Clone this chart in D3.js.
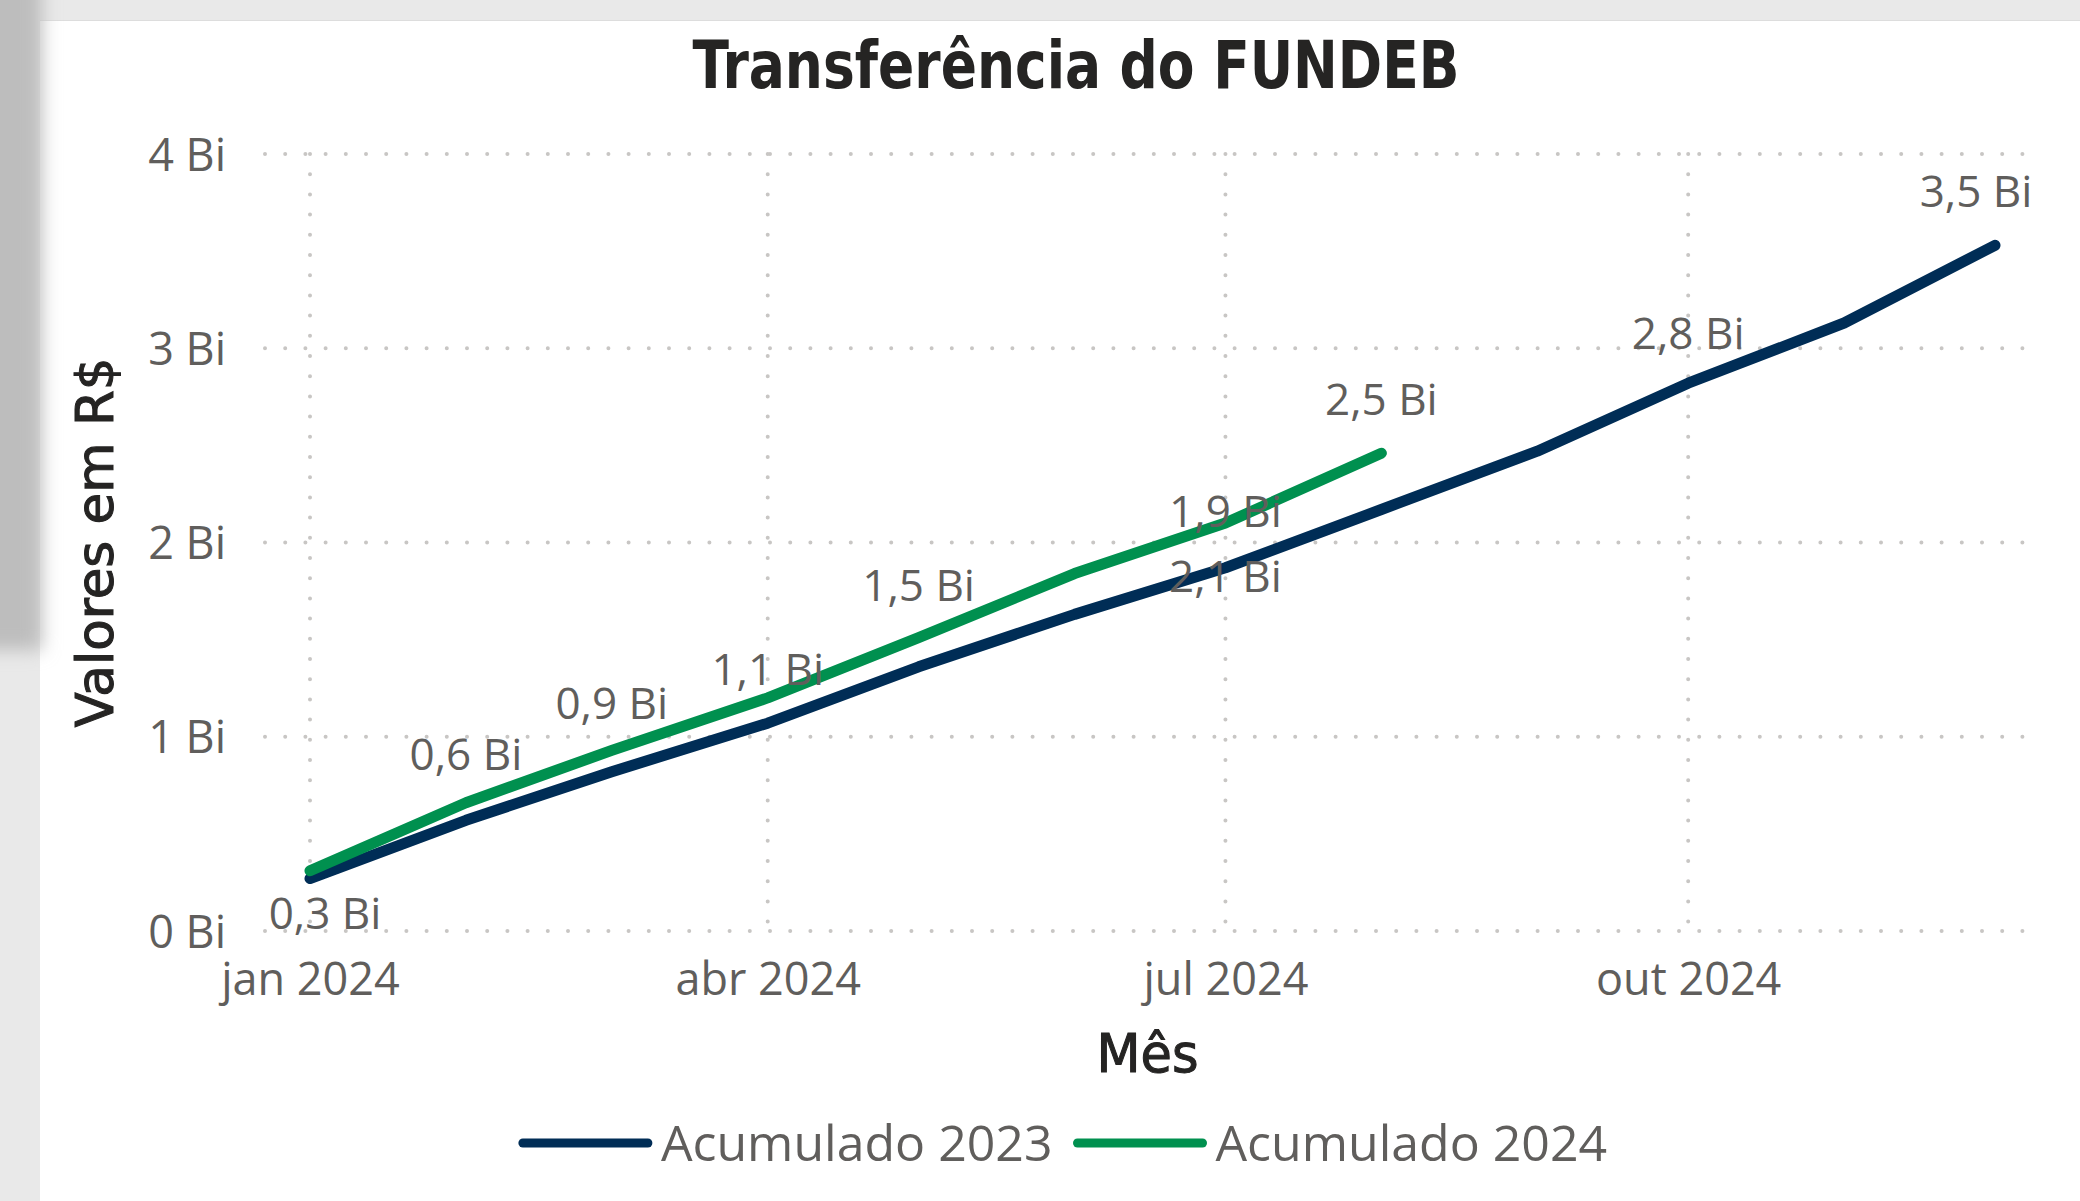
<!DOCTYPE html>
<html>
<head>
<meta charset="utf-8">
<script src="https://cdn.jsdelivr.net/npm/d3@7"></script>
<style>
    body { margin: 0; background: #ffffff; }
    svg { display: block; }
</style>
</head>
<body>
<div id="content"></div>
<script>
// valores acumulados em bilhoes de R$, um por mes
const meses = ["2024-01-01", "2024-02-01", "2024-03-01", "2024-04-01", "2024-05-01", "2024-06-01",
    "2024-07-01", "2024-08-01", "2024-09-01", "2024-10-01", "2024-11-01", "2024-12-01"];
const acumulado2023 = [0.27, 0.57, 0.82, 1.07, 1.36, 1.63, 1.87, 2.17, 2.47, 2.82, 3.13, 3.53];
const acumulado2024 = [0.31, 0.66, 0.93, 1.20, 1.51, 1.84, 2.10, 2.46];
const seriesNomes = ["Acumulado 2023", "Acumulado 2024"];
const yTicks = [0, 1, 2, 3, 4];
const xTickMeses = ["2024-01-01", "2024-04-01", "2024-07-01", "2024-10-01"];
const xTickLabels = ["jan 2024", "abr 2024", "jul 2024", "out 2024"];
// rotulos de dados: serie (0 = 2023, 1 = 2024), indice do mes, texto
const rotulosSerie = [0, 1, 1, 1, 1, 1, 0, 1, 0, 0];
const rotulosMes = [0, 1, 2, 3, 4, 6, 6, 7, 9, 11];
const rotulosTexto = ["0,3 Bi", "0,6 Bi", "0,9 Bi", "1,1 Bi", "1,5 Bi", "1,9 Bi", "2,1 Bi", "2,5 Bi", "2,8 Bi", "3,5 Bi"];

// deslocamento de cada rotulo em relacao ao ponto (layout, como o Power BI posicionou)
const rotulosDx = [15, 0, 0, 0, 0, 0, 0, 0, 0, -19];
const rotulosDy = [50, -33, -31, -13, -37, 4, 24, -38, -34, -38];

function init() {

    let width = 2080,
        height = 1201;

    let navy = "#002d56",
        green = "#00904f",
        gray = "#605e5c",
        dark = "#252423";

    let tickFont = "'Segoe UI', 'Open Sans', sans-serif";
    let titleFont = "'DejaVu Sans Condensed', 'DejaVu Sans', sans-serif";

    let parse = d3.timeParse("%Y-%m-%d");

    let svg = d3.select("#content")
        .append("svg")
        .attr("width", width)
        .attr("height", height);

    // fundo: moldura cinza do relatorio
    let defs = svg.append("defs");
    defs.append("filter")
        .attr("id", "blur")
        .attr("x", "-50%").attr("y", "-50%")
        .attr("width", "200%").attr("height", "200%")
        .append("feGaussianBlur")
        .attr("stdDeviation", 9);

    svg.append("rect").attr("width", width).attr("height", height).attr("fill", "#e9e9e9");
    svg.append("rect").attr("x", 40).attr("y", 20).attr("width", width - 40).attr("height", height - 20).attr("fill", "#ffffff");
    svg.append("line").attr("x1", 40).attr("x2", width).attr("y1", 20.5).attr("y2", 20.5).attr("stroke", "#dddddd");
    svg.append("rect")
        .attr("x", -30).attr("y", -30).attr("width", 72).attr("height", 680)
        .attr("fill", "#bdbdbd")
        .attr("filter", "url(#blur)");

    // escalas
    let x = d3.scaleTime()
        .domain([parse(meses[0]), parse(meses[meses.length - 1])])
        .range([310, 1995]);

    let y = d3.scaleLinear()
        .domain([0, 4])
        .range([931, 154]);

    let plotLeft = 265,
        plotRight = 2030;

    // grade horizontal pontilhada
    svg.append("g")
        .selectAll("line")
        .data(yTicks)
        .enter()
        .append("line")
        .attr("x1", plotLeft)
        .attr("x2", plotRight)
        .attr("y1", d => y(d))
        .attr("y2", d => y(d))
        .attr("stroke", "#c8c6c4")
        .attr("stroke-width", 4)
        .attr("stroke-linecap", "round")
        .attr("stroke-dasharray", "0 20.2");

    // grade vertical pontilhada
    svg.append("g")
        .selectAll("line")
        .data(xTickMeses)
        .enter()
        .append("line")
        .attr("x1", d => x(parse(d)))
        .attr("x2", d => x(parse(d)))
        .attr("y1", y(4))
        .attr("y2", y(0))
        .attr("stroke", "#c8c6c4")
        .attr("stroke-width", 4)
        .attr("stroke-linecap", "round")
        .attr("stroke-dasharray", "0 20.2");

    // eixo Y
    let yAxis = d3.axisLeft(y)
        .tickValues(yTicks)
        .tickSize(0)
        .tickPadding(0)
        .tickFormat(d => d + " Bi");

    svg.append("g")
        .attr("transform", "translate(226,0)")
        .call(yAxis)
        .call(g => g.select(".domain").remove())
        .selectAll("text")
        .attr("dy", "0.36em")
        .style("font-family", tickFont)
        .style("font-size", "45px")
        .style("fill", gray);

    // eixo X
    let xAxis = d3.axisBottom(x)
        .tickValues(xTickMeses.map(parse))
        .tickSize(0)
        .tickPadding(0)
        .tickFormat((d, i) => xTickLabels[i]);

    svg.append("g")
        .attr("transform", "translate(0,995)")
        .call(xAxis)
        .call(g => g.select(".domain").remove())
        .selectAll("text")
        .attr("dy", 0)
        .style("font-family", tickFont)
        .style("font-size", "45px")
        .style("fill", gray);

    // linhas
    let series = [acumulado2023, acumulado2024];
    let cores = [navy, green];

    let line = d3.line()
        .x((d, i) => x(parse(meses[i])))
        .y(d => y(d));

    svg.append("g")
        .selectAll("path")
        .data(series)
        .enter()
        .append("path")
        .attr("d", d => line(d))
        .attr("fill", "none")
        .attr("stroke", (d, i) => cores[i])
        .attr("stroke-width", 11)
        .attr("stroke-linecap", "round")
        .attr("stroke-linejoin", "round");

    // rotulos de dados
    svg.append("g")
        .selectAll("text")
        .data(rotulosTexto)
        .enter()
        .append("text")
        .attr("x", (d, i) => x(parse(meses[rotulosMes[i]])) + rotulosDx[i])
        .attr("y", (d, i) => y(series[rotulosSerie[i]][rotulosMes[i]]) + rotulosDy[i])
        .attr("text-anchor", "middle")
        .style("font-family", tickFont)
        .style("font-size", "44px")
        .style("fill", gray)
        .text(d => d);

    // titulo
    svg.append("text")
        .attr("x", 1076)
        .attr("y", 88)
        .attr("text-anchor", "middle")
        .attr("textLength", 767)
        .attr("lengthAdjust", "spacingAndGlyphs")
        .style("font-family", titleFont)
        .style("font-weight", "bold")
        .style("font-size", "65px")
        .style("fill", dark)
        .text("Transferência do FUNDEB");

    // titulos dos eixos (peso medio: regular com um contorno fino)
    svg.append("text")
        .attr("transform", "translate(113," + ((y(0) + y(4)) / 2) + ") rotate(-90)")
        .attr("text-anchor", "middle")
        .attr("textLength", 370)
        .attr("lengthAdjust", "spacingAndGlyphs")
        .style("font-family", titleFont)
        .style("font-size", "52px")
        .style("fill", dark)
        .style("stroke", dark)
        .style("stroke-width", 1)
        .text("Valores em R$");

    svg.append("text")
        .attr("x", (plotLeft + plotRight) / 2)
        .attr("y", 1072)
        .attr("text-anchor", "middle")
        .attr("textLength", 102)
        .attr("lengthAdjust", "spacingAndGlyphs")
        .style("font-family", titleFont)
        .style("font-size", "54px")
        .style("fill", dark)
        .style("stroke", dark)
        .style("stroke-width", 1)
        .text("Mês");

    // legenda
    let legend = svg.append("g");
    let lx = 0;
    seriesNomes.forEach((nome, i) => {
        legend.append("line")
            .attr("x1", lx)
            .attr("x2", lx + 125)
            .attr("y1", 0)
            .attr("y2", 0)
            .attr("stroke", cores[i])
            .attr("stroke-width", 9)
            .attr("stroke-linecap", "round");
        let t = legend.append("text")
            .attr("x", lx + 138)
            .attr("y", 0)
            .attr("dy", "0.36em")
            .style("font-family", tickFont)
            .style("font-size", "50px")
            .style("fill", gray)
            .text(nome);
        lx += 138 + t.node().getComputedTextLength() + 25;
    });
    let legendWidth = lx - 25;
    legend.attr("transform", "translate(" + (1065 - legendWidth / 2) + ",1143)");
}
init()
</script>
</body>
</html>
